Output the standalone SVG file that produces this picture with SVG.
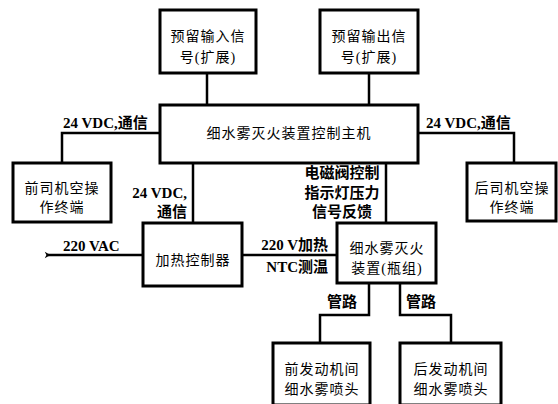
<svg xmlns="http://www.w3.org/2000/svg" width="558" height="404" viewBox="0 0 558 404">
<style>
.box{fill:#fff;stroke:#000;stroke-width:3}
.wire{fill:none;stroke:#000;stroke-width:2.5}
.t{font-family:"Liberation Serif","Noto Sans CJK SC",serif;font-size:14px;fill:#000;text-anchor:middle;dominant-baseline:central;letter-spacing:1px}
.lb{font-family:"Liberation Serif","Noto Sans CJK SC",serif;font-size:15px;fill:#000;font-weight:bold;dominant-baseline:central}
</style>
<defs>
<marker id="tail" viewBox="0 0 10 10" refX="3" refY="5" markerWidth="8" markerHeight="8" orient="auto" markerUnits="userSpaceOnUse">
<path d="M0,5 L7,1 L5,5 L7,9 Z" fill="#000"/>
</marker>
</defs>
<g id="connectors">
<path class="wire" d="M207,73 V105"/>
<path class="wire" d="M369,73 V105"/>
<path class="wire" d="M160,133 H62 V163"/>
<path class="wire" d="M418,133 H514 V163"/>
<path class="wire" d="M193,163 V223"/>
<path class="wire" d="M386,163 V223"/>
<path class="wire" d="M143,255 H48" marker-end="url(#tail)"/>
<path class="wire" d="M242,255 H337"/>
<path class="wire" d="M369,283 V315 H320 V343"/>
<path class="wire" d="M400,283 V315 H451 V343"/>
<text class="lb" x="63" y="123">24 VDC,通信</text>
<text class="lb" x="426" y="123">24 VDC,通信</text>
<text class="lb" x="187" y="193" text-anchor="end">24 VDC,</text>
<text class="lb" x="187" y="212" text-anchor="end">通信</text>
<text class="lb" x="63" y="246">220 VAC</text>
<text class="lb" x="328" y="245" text-anchor="end">220 V加热</text>
<text class="lb" x="328" y="267" text-anchor="end">NTC测温</text>
<text class="lb" x="342" y="173" text-anchor="middle">电磁阀控制</text>
<text class="lb" x="342" y="193" text-anchor="middle">指示灯压力</text>
<text class="lb" x="342" y="212" text-anchor="middle">信号反馈</text>
<text class="lb" x="327" y="302">管路</text>
<text class="lb" x="406" y="302">管路</text>
</g>
<g id="input">
<rect class="box" x="160" y="10" width="96" height="63"/>
<text class="t" x="208" y="36">预留输入信</text>
<text class="t" x="208" y="57">号(扩展)</text>
</g>
<g id="output">
<rect class="box" x="320" y="10" width="98" height="63"/>
<text class="t" x="369" y="36">预留输出信</text>
<text class="t" x="369" y="57">号(扩展)</text>
</g>
<g id="main">
<rect class="box" x="160" y="105" width="258" height="58"/>
<text class="t" x="289" y="133">细水雾灭火装置控制主机</text>
</g>
<g id="front-driver">
<rect class="box" x="13" y="163" width="98" height="59"/>
<text class="t" x="62" y="188">前司机空操</text>
<text class="t" x="62" y="207">作终端</text>
</g>
<g id="rear-driver">
<rect class="box" x="467" y="163" width="89" height="58"/>
<text class="t" x="512" y="188">后司机空操</text>
<text class="t" x="512" y="207">作终端</text>
</g>
<g id="heater">
<rect class="box" x="143" y="223" width="99" height="63"/>
<text class="t" x="193" y="260">加热控制器</text>
</g>
<g id="fire">
<rect class="box" x="337" y="223" width="99" height="60"/>
<text class="t" x="387" y="248">细水雾灭火</text>
<text class="t" x="387" y="268">装置(瓶组)</text>
</g>
<g id="front-nozzle">
<rect class="box" x="273" y="343" width="97" height="62"/>
<text class="t" x="322" y="369">前发动机间</text>
<text class="t" x="322" y="389">细水雾喷头</text>
</g>
<g id="rear-nozzle">
<rect class="box" x="400" y="343" width="101" height="62"/>
<text class="t" x="451" y="369">后发动机间</text>
<text class="t" x="451" y="389">细水雾喷头</text>
</g>
</svg>
